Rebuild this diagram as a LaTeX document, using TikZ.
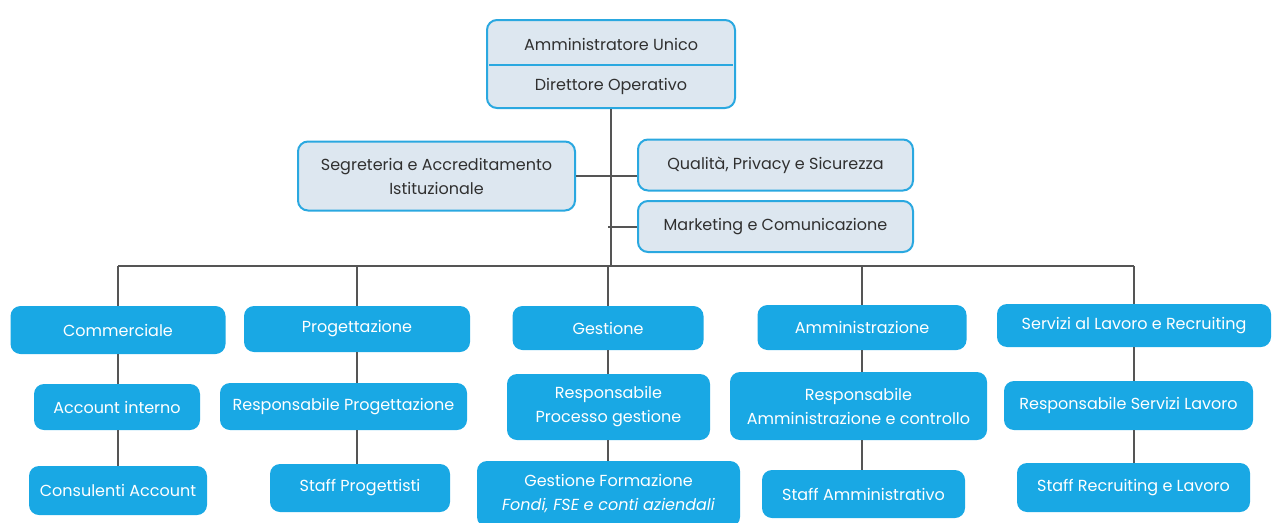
\documentclass[tikz,border=0pt]{standalone}
\usepackage{fontspec}
\setmainfont{Poppins}
\definecolor{bboxc}{HTML}{19A8E4}
\definecolor{lfill}{HTML}{DDE7F0}
\definecolor{lbord}{HTML}{2AA8E0}
\definecolor{linec}{HTML}{555555}
\definecolor{txtc}{HTML}{303030}
\begin{document}
\begin{tikzpicture}[x=1pt,y=-1pt,
  every node/.style={font=\fontsize{16}{24}\selectfont, align=center, inner sep=0pt},
  bbox/.style={fill=bboxc, rounded corners=10pt, text=white},
  lbox/.style={fill=lfill, draw=lbord, line width=2pt, rounded corners=10pt, text=txtc},
  conn/.style={draw=linec, line width=2pt}]
\useasboundingbox (0,0) rectangle (1276,522);
% top
\node[lbox, minimum width=248pt, minimum height=88pt] (top) at (611,64) {};
\node[text=txtc] (t1) at (611,44) {Amministratore Unico};
\node[text=txtc] (t2) at (611,86) {Direttore Operativo};
\coordinate (dl) at (489,65);
\coordinate (dr) at (733,65);
\draw[draw=lbord, line width=2pt] (dl) -- (dr);
% staff
\node[lbox, minimum width=277pt, minimum height=69pt] (seg) at (436.5,176) {Segreteria e Accreditamento\\Istituzionale};
\node[lbox, minimum width=275pt, minimum height=51pt] (qual) at (775.5,165) {Qualità, Privacy e Sicurezza};
\node[lbox, minimum width=275pt, minimum height=51pt] (mkt) at (775.5,226.5) {Marketing e Comunicazione};
% level 1
\node[bbox, minimum width=215pt, minimum height=48pt] (comm) at (118,330) {Commerciale};
\node[bbox, minimum width=226pt, minimum height=46pt] (prog) at (357,329) {Progettazione};
\node[bbox, minimum width=191pt, minimum height=44pt] (gest) at (608,328) {Gestione};
\node[bbox, minimum width=209pt, minimum height=45pt] (amm) at (862,327.5) {Amministrazione};
\node[bbox, minimum width=274pt, minimum height=43pt] (serv) at (1134,325.5) {Servizi al Lavoro e Recruiting};
% level 2
\node[bbox, minimum width=166pt, minimum height=46pt] (acc) at (117,407) {Account interno};
\node[bbox, minimum width=247pt, minimum height=47pt] (rprog) at (343.5,406.5) {Responsabile Progettazione};
\node[bbox, minimum width=203pt, minimum height=66pt] (rgest) at (608.5,407) {Responsabile\\Processo gestione};
\node[bbox, minimum width=257pt, minimum height=68pt] (ramm) at (858.5,406) {Responsabile\\Amministrazione e controllo};
\node[bbox, minimum width=249pt, minimum height=49pt] (rserv) at (1128.5,405.5) {Responsabile Servizi Lavoro};
% level 3
\node[bbox, minimum width=178pt, minimum height=49pt] (cons) at (118,490.5) {Consulenti Account};
\node[bbox, minimum width=180pt, minimum height=48pt] (sprog) at (360,488) {Staff Progettisti};
\node[bbox, minimum width=263pt, minimum height=66pt] (gform) at (608.5,494) {Gestione Formazione\\\itshape Fondi, FSE e conti aziendali};
\node[bbox, minimum width=203pt, minimum height=48pt] (samm) at (863.5,494) {Staff Amministrativo};
\node[bbox, minimum width=233pt, minimum height=49pt] (sserv) at (1133.5,487.5) {Staff Recruiting e Lavoro};
% connectors
\coordinate (bus) at (608,266);
\path[conn] (top.south) -- (top.south |- bus);
\path[conn] (seg.east) -- (seg.east -| qual.west);
\path[conn] (mkt.west) -- (mkt.west -| bus);
\path[conn] (comm.north |- bus) -- (serv.north |- bus);
\foreach \n in {comm,prog,gest,amm,serv}{
  \path[conn] (\n.north |- bus) -- (\n.north);
}
\path[conn] (comm.south) -- (comm.south |- acc.north);
\path[conn] (comm.south |- acc.south) -- (comm.south |- cons.north);
\path[conn] (prog.south) -- (prog.south |- rprog.north);
\path[conn] (prog.south |- rprog.south) -- (prog.south |- sprog.north);
\path[conn] (gest.south) -- (gest.south |- rgest.north);
\path[conn] (gest.south |- rgest.south) -- (gest.south |- gform.north);
\path[conn] (amm.south) -- (amm.south |- ramm.north);
\path[conn] (amm.south |- ramm.south) -- (amm.south |- samm.north);
\path[conn] (serv.south) -- (serv.south |- rserv.north);
\path[conn] (serv.south |- rserv.south) -- (serv.south |- sserv.north);
\end{tikzpicture}
\end{document}
